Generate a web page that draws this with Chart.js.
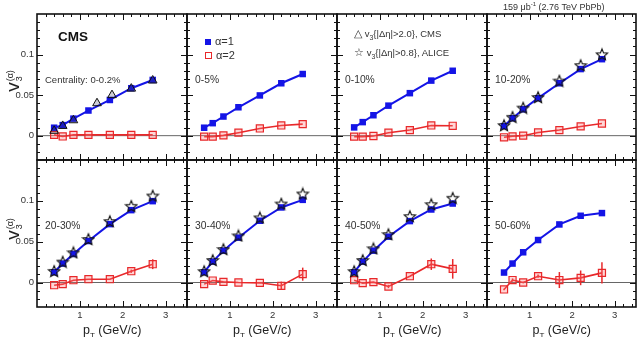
<!DOCTYPE html>
<html>
<head>
<meta charset="utf-8">
<script src="https://cdn.jsdelivr.net/npm/chart.js@4"></script>
<style>
  body { margin: 0; background: #fff; }
  #wrap { position: relative; width: 642px; height: 337px; overflow: hidden; font-family: "Liberation Sans", Arial, sans-serif; color: #333; }
  #wrap canvas { position: absolute; left: 0; top: 0; }
  .lbl { position: absolute; white-space: nowrap; line-height: 1; }
  .ytitle { position: absolute; transform: rotate(-90deg); transform-origin: center center; white-space: nowrap; line-height: 1; color: #222; text-align: center; }
</style>
</head>
<body>
<div id="wrap"></div>
<script>
// pT bin centres shared by all panels
const pt = [0.4, 0.6, 0.85, 1.2, 1.7, 2.2, 2.7];

const centralities = ["Centrality: 0-0.2%", "0-5%", "0-10%", "10-20%", "20-30%", "30-40%", "40-50%", "50-60%"];

// v3^(alpha=1), one array per centrality panel
const v3a1_0 = [0.0098, 0.013, 0.021, 0.031, 0.044, 0.0585, 0.0687];
const v3a1_1 = [0.0098, 0.0154, 0.0236, 0.035, 0.0496, 0.0646, 0.076];
const v3a1_2 = [0.0102, 0.0167, 0.0252, 0.037, 0.0524, 0.0679, 0.080];
const v3a1_3 = [0.0118, 0.0215, 0.0325, 0.0463, 0.0646, 0.0821, 0.0943];
const v3a1_4 = [0.0126, 0.0232, 0.035, 0.0508, 0.0715, 0.0886, 0.0996];
const v3a1_5 = [0.0126, 0.0256, 0.039, 0.0549, 0.0756, 0.0919, 0.1012];
const v3a1_6 = [0.0126, 0.0256, 0.039, 0.0561, 0.0752, 0.0894, 0.0967];
const v3a1_7 = [0.0122, 0.0232, 0.037, 0.052, 0.0711, 0.0817, 0.085];

// v3^(alpha=2)
const v3a2_0 = [0.001, -0.001, 0.001, 0.001, 0.001, 0.001, 0.001];
const v3a2_1 = [-0.0012, -0.0012, 0.0004, 0.0037, 0.0089, 0.0126, 0.0142];
const v3a2_2 = [-0.0012, -0.0012, -0.0004, 0.0037, 0.0069, 0.0126, 0.0122];
const v3a2_3 = [-0.002, -0.0008, 0, 0.004, 0.0069, 0.0114, 0.015];
const v3a2_4 = [-0.0033, -0.002, 0.0028, 0.004, 0.004, 0.0138, 0.0224];
const v3a2_5 = [-0.002, 0.0024, 0.0008, 0, -0.0004, -0.004, 0.0102];
const v3a2_6 = [0.0028, -0.0008, 0.0004, -0.0049, 0.0077, 0.0224, 0.0167];
const v3a2_7 = [-0.0085, 0.003, 0, 0.0077, 0.003, 0.0057, 0.0118];

// stat errors on alpha=2
const err_a2_0 = [0, 0, 0, 0, 0, 0, 0];
const err_a2_1 = [0, 0, 0, 0, 0, 0, 0];
const err_a2_2 = [0, 0, 0, 0, 0, 0, 0];
const err_a2_3 = [0, 0, 0, 0, 0, 0, 0];
const err_a2_4 = [0, 0, 0, 0, 0, 0.002, 0.006];
const err_a2_5 = [0, 0, 0, 0, 0, 0.005, 0.008];
const err_a2_6 = [0, 0, 0, 0.002, 0, 0.007, 0.012];
const err_a2_7 = [0.001, 0.002, 0.001, 0.002, 0.0098, 0.009, 0.013];

// CMS v3{|deta|>2.0} (0-0.2% only)
const cmsPt = [0.4, 0.6, 0.85, 1.4, 1.75, 2.2, 2.7];
const cmsV3 = [0.006, 0.012, 0.019, 0.040, 0.050, 0.058, 0.068];

// ALICE v3{|deta|>0.8} (10-50%)
const alice_3 = [0.013, 0.0232, 0.0346, 0.0476, 0.0679, 0.087, 0.1004];
const alice_4 = [0.0142, 0.0256, 0.037, 0.0533, 0.0752, 0.0939, 0.1065];
const alice_5 = [0.014, 0.0276, 0.041, 0.0577, 0.0797, 0.0967, 0.109];
const alice_6 = [0.014, 0.0276, 0.0419, 0.0593, 0.0813, 0.0959, 0.1037];

const alpha1 = [v3a1_0, v3a1_1, v3a1_2, v3a1_3, v3a1_4, v3a1_5, v3a1_6, v3a1_7];
const alpha2 = [v3a2_0, v3a2_1, v3a2_2, v3a2_3, v3a2_4, v3a2_5, v3a2_6, v3a2_7];
const alpha2err = [err_a2_0, err_a2_1, err_a2_2, err_a2_3, err_a2_4, err_a2_5, err_a2_6, err_a2_7];
const alice = [null, null, null, alice_3, alice_4, alice_5, alice_6, null];

const xTicks = [1, 2, 3];
const xTickLabels = ["1", "2", "3"];
const yTicks = [0, 0.05, 0.1];
const yTickLabels = ["0", "0.05", "0.1"];

const W = 642, H = 337;
const colEdges = [37, 187, 337, 487, 636];
const rowEdges = [14, 160, 307];

const BLUE = "#1414e6";
const RED = "#e8282a";

function starImage(size) {
    const c = document.createElement("canvas");
    c.width = size; c.height = size;
    const g = c.getContext("2d");
    const R = size / 2 - 1, r = R * 0.45;
    g.beginPath();
    for (let i = 0; i < 10; i++) {
        const a = -Math.PI / 2 + i * Math.PI / 5;
        const rad = i % 2 ? r : R;
        g.lineTo(size / 2 + rad * Math.cos(a), size / 2 + 0.8 + rad * Math.sin(a));
    }
    g.closePath();
    g.strokeStyle = "#111";
    g.lineWidth = 1.1;
    g.stroke();
    return c;
}
const star = starImage(14);

// frame, inward ticks, zero line and error bars
const rootFrame = {
    id: "rootFrame",
    beforeDatasetsDraw(chart) {
        const { ctx, chartArea: a, scales } = chart;
        const y0 = scales.y.getPixelForValue(0);
        ctx.save();
        ctx.strokeStyle = "#666";
        ctx.lineWidth = 1;
        ctx.beginPath();
        ctx.moveTo(a.left, y0); ctx.lineTo(a.right, y0);
        ctx.stroke();
        chart.data.datasets.forEach(ds => {
            if (!ds.errors) return;
            ctx.strokeStyle = ds.borderColor;
            ctx.lineWidth = 1.5;
            ds.data.forEach((p, i) => {
                const e = ds.errors[i];
                if (!e) return;
                const x = scales.x.getPixelForValue(p.x);
                ctx.beginPath();
                ctx.moveTo(x, scales.y.getPixelForValue(p.y - e));
                ctx.lineTo(x, scales.y.getPixelForValue(p.y + e));
                ctx.stroke();
            });
        });
        ctx.restore();
    },
    afterDraw(chart) {
        const { ctx, chartArea: a, scales } = chart;
        ctx.save();
        ctx.strokeStyle = "#111";
        ctx.lineWidth = 1;
        ctx.beginPath();
        for (let k = 1; k <= 17; k++) {
            const v = k * 0.2;
            const x = Math.round(scales.x.getPixelForValue(v)) + 0.5;
            const len = Math.abs(v - Math.round(v)) < 1e-6 ? 6 : 3;
            ctx.moveTo(x, a.bottom); ctx.lineTo(x, a.bottom - len);
            ctx.moveTo(x, a.top); ctx.lineTo(x, a.top + len);
        }
        for (let k = -2; k <= 14; k++) {
            const v = k * 0.01;
            const y = Math.round(scales.y.getPixelForValue(v)) + 0.5;
            const len = k % 5 === 0 ? 6 : 3;
            ctx.moveTo(a.left, y); ctx.lineTo(a.left + len, y);
            ctx.moveTo(a.right, y); ctx.lineTo(a.right - len, y);
        }
        ctx.stroke();
        ctx.lineWidth = 1.6;
        ctx.strokeRect(a.left, a.top, a.right - a.left, a.bottom - a.top);
        ctx.restore();
    }
};

const wrap = document.getElementById("wrap");

for (let p = 0; p < 8; p++) {
    const row = Math.floor(p / 4), col = p % 4;
    const canvas = document.createElement("canvas");
    canvas.width = W; canvas.height = H;
    wrap.appendChild(canvas);

    const datasets = [];
    if (p === 0) {
        datasets.push({
            data: cmsPt.map((x, i) => ({ x, y: cmsV3[i] })),
            showLine: false, pointStyle: "triangle", pointRadius: 5,
            borderColor: "#111", borderWidth: 1, backgroundColor: "rgba(60,60,90,0.25)", order: 0
        });
    }
    if (alice[p]) {
        datasets.push({
            data: pt.map((x, i) => ({ x, y: alice[p][i] })),
            showLine: false, pointStyle: star, order: 0
        });
    }
    datasets.push({
        data: pt.map((x, i) => ({ x, y: alpha1[p][i] })),
        borderColor: BLUE, backgroundColor: BLUE, borderWidth: 2,
        pointStyle: "rect", pointRadius: 4.6, pointBorderWidth: 0, order: 1
    });
    datasets.push({
        data: pt.map((x, i) => ({ x, y: alpha2[p][i] })),
        errors: alpha2err[p],
        borderColor: RED, backgroundColor: "rgba(255,120,120,0.3)", borderWidth: 1.6,
        pointStyle: "rect", pointRadius: 5, pointBorderWidth: 1.2, order: 2
    });

    const left = colEdges[col], right = colEdges[col + 1];
    const top = rowEdges[row], bottom = rowEdges[row + 1];
    const showX = row === 1, showY = col === 0;

    new Chart(canvas, {
        type: "line",
        data: { datasets },
        options: {
            responsive: false,
            animation: false,
            devicePixelRatio: 1,
            events: [],
            layout: {
                autoPadding: false,
                padding: {
                    left: showY ? 0 : left,
                    right: W - right,
                    top: top,
                    bottom: showX ? 0 : H - bottom
                }
            },
            plugins: { legend: { display: false }, tooltip: { enabled: false } },
            scales: {
                x: {
                    type: "linear", min: 0, max: 3.5,
                    display: showX,
                    grid: { display: false, drawTicks: false },
                    border: { display: false },
                    afterBuildTicks: s => { s.ticks = xTicks.map(v => ({ value: v })); },
                    afterFit: s => { if (showX) s.height = H - bottom; },
                    ticks: {
                        padding: 3, color: "#333",
                        font: { family: "Liberation Sans", size: 9.5 },
                        callback: (v) => xTickLabels[xTicks.indexOf(v)]
                    }
                },
                y: {
                    type: "linear", min: -0.03, max: 0.15,
                    display: showY,
                    grid: { display: false, drawTicks: false },
                    border: { display: false },
                    afterBuildTicks: s => { s.ticks = yTicks.map(v => ({ value: v })); },
                    afterFit: s => { if (showY) s.width = left; },
                    ticks: {
                        padding: 3, color: "#333",
                        font: { family: "Liberation Sans", size: 9.5 },
                        callback: (v) => yTickLabels[yTicks.indexOf(v)]
                    }
                }
            }
        },
        plugins: [rootFrame]
    });

    const lab = document.createElement("div");
    lab.className = "lbl";
    lab.textContent = centralities[p];
    lab.style.left = (left + 8) + "px";
    lab.style.top = ((row === 0 ? 80 : 226) - 5) + "px";
    lab.style.fontSize = p === 0 ? "9.5px" : "10.3px";
    wrap.appendChild(lab);
}

// static text
const extra = [
    { html: "CMS", left: 58, top: 30, css: "font-weight:bold;font-size:13.5px;color:#111" },
    { html: '<span style="display:inline-block;width:6px;height:6px;background:' + BLUE + ';margin-right:4px;vertical-align:0px"></span>&alpha;=1', left: 205, top: 36, css: "font-size:11px" },
    { html: '<span style="display:inline-block;width:5px;height:5px;border:1px solid ' + RED + ';margin-right:4px;vertical-align:0px"></span>&alpha;=2', left: 205, top: 50, css: "font-size:11px" },
    { html: '<span style="font-size:11px">&#9651;</span> v<sub style="font-size:7px">3</sub>{|&Delta;&eta;|&gt;2.0}, CMS', left: 354, top: 28, css: "font-size:9.5px" },
    { html: '<span style="font-size:11px">&#9734;</span> v<sub style="font-size:7px">3</sub>{|&Delta;&eta;|&gt;0.8}, ALICE', left: 354, top: 47, css: "font-size:9.5px" },
    { html: '159 &mu;b<sup style="font-size:6px">-1</sup> (2.76 TeV PbPb)', left: 503, top: 1, css: "font-size:9px" }
];
extra.forEach(t => {
    const d = document.createElement("div");
    d.className = "lbl";
    d.innerHTML = t.html;
    d.style.left = t.left + "px";
    d.style.top = t.top + "px";
    d.style.cssText += t.css;
    wrap.appendChild(d);
});

// axis titles
for (let c = 0; c < 4; c++) {
    const d = document.createElement("div");
    d.className = "lbl";
    d.innerHTML = 'p<sub style="font-size:8px">T</sub> (GeV/c)';
    d.style.fontSize = "12.5px";
    d.style.color = "#222";
    const cx = (colEdges[c] + colEdges[c + 1]) / 2;
    d.style.left = (cx - 29) + "px";
    d.style.top = "324px";
    wrap.appendChild(d);
}
[81, 229].forEach(cy => {
    const d = document.createElement("div");
    d.className = "ytitle";
    d.innerHTML = '<span style="font-size:19px">v</span><span style="display:inline-block;vertical-align:-3px;font-size:9px;line-height:9px;text-align:left;margin-left:1px">(&alpha;)<br>3</span>';
    d.style.left = "-4px";
    d.style.top = (cy - 11) + "px";
    d.style.width = "36px";
    d.style.height = "22px";
    wrap.appendChild(d);
});
</script>
</body>
</html>
